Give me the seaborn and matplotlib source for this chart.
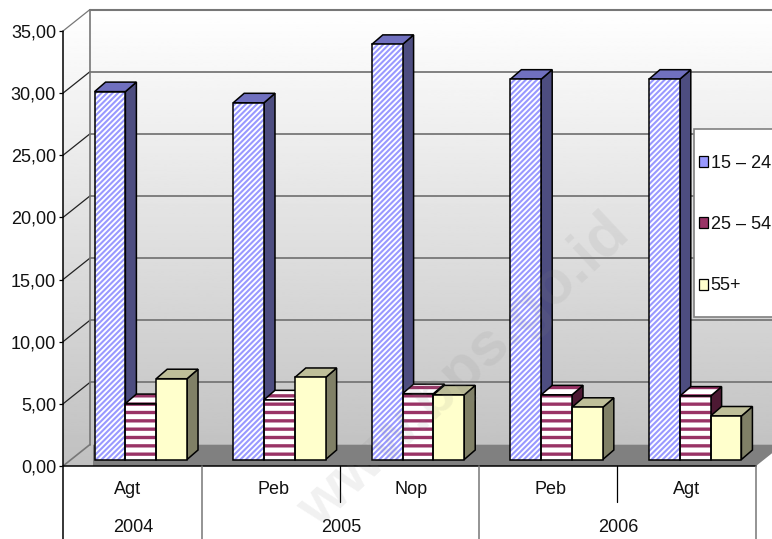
import matplotlib
matplotlib.use("Agg")
import matplotlib.pyplot as plt
from matplotlib.patches import Patch, Polygon, Rectangle
from matplotlib.ticker import FuncFormatter
from matplotlib.transforms import Affine2D
import numpy as np
import pandas as pd
import seaborn as sns

# Unemployment rate by age group
periods = ["Agt 2004", "Peb 2005", "Nop 2005", "Peb 2006", "Agt 2006"]
months = ["Agt", "Peb", "Nop", "Peb", "Agt"]
years = ["2004", "2005", "2006"]
year_spans = [(0, 0), (1, 2), (3, 4)]
age_groups = ["15 – 24", "25 – 54", "55+"]
age_15_24 = [29.6, 28.7, 33.4, 30.6, 30.6]
age_25_54 = [4.5, 4.8, 5.3, 5.2, 5.1]
age_55_up = [6.5, 6.6, 5.2, 4.2, 3.5]
y_ticks = [0, 5, 10, 15, 20, 25, 30, 35]

W, H = 772, 539
FRONT_L, FRONT_R, FRONT_B, FRONT_T = 63, 756, 466, 31
BAR_SHIFT_X, BAR_SHIFT_Y = 8.5, 6.5
WALL_DX, WALL_DY = 27, 21.5
BAR_DX, BAR_DY = 11, 9.5
MONTH_NUDGE = [-5, 3, 2, 2, 0]

FILLS = ["#9999FF", "#993366", "#FFFFCC"]
SIDES = ["#4D4D80", "#4D1933", "#808066"]
TOPS = ["#7070BF", "#993366", "#BFBF99"]
HATCHES = ["//////", "--", None]
HATCH_WIDTHS = [1.5, 2.4, 1.0]
GRID = "#777777"

sns.set_theme(style="white")
plt.rcParams["font.family"] = ["Liberation Sans", "DejaVu Sans"]
plt.rcParams["font.size"] = 13
plt.rcParams["hatch.linewidth"] = 1.5

frame = pd.DataFrame({
    "period": periods * 3,
    "age": np.repeat(age_groups, len(periods)),
    "rate": age_15_24 + age_25_54 + age_55_up,
})

fig = plt.figure(figsize=(W / 100, H / 100), dpi=100, facecolor="white")


def box(left, right, bottom, top):
    return [left / W, 1 - bottom / H, (right - left) / W, (bottom - top) / H]


def set_stripe_width(patch, width):
    if hasattr(patch, "set_hatch_linewidth"):
        patch.set_hatch_linewidth(width)


# Front plane: value axis, category labels, walls and floor
ax = fig.add_axes(box(FRONT_L, FRONT_R, FRONT_B, FRONT_T), zorder=1)
ax.patch.set_visible(False)
ax.set_xlim(-0.5, 4.5)
ax.set_ylim(0, 35)
px_x = (FRONT_R - FRONT_L) / 5
px_y = (FRONT_B - FRONT_T) / 35
wdx, wdy = WALL_DX / px_x, WALL_DY / px_y
x0, x1 = -0.5, 4.5
y_max = 35
notch = 30 / px_x

wall = Polygon(
    [(x0, 0), (x0, y_max), (x0 + wdx, y_max + wdy), (x1 + wdx, y_max + wdy),
     (x1 + wdx, wdy), (x0 + notch, wdy), (x0 + notch, 0)],
    closed=True, transform=ax.transData, facecolor="none", edgecolor="none",
)
ax.add_patch(wall)
shade = ax.imshow(
    np.linspace(1.0, 0.753, 256).reshape(-1, 1), cmap="gray", vmin=0, vmax=1,
    extent=(x0, x1 + wdx, 0, y_max + wdy), origin="upper", aspect="auto", zorder=0,
)
shade.set_clip_path(wall)
shade.set_clip_box(fig.bbox)
ax.set_xlim(x0, x1)
ax.set_ylim(0, y_max)

ax.add_patch(Polygon(
    [(x0 + notch, 0), (x0 + notch, wdy), (x1 + wdx, wdy), (x1, 0)],
    closed=True, facecolor="#808080", edgecolor="none", zorder=0.5, clip_on=False,
))

for tick in y_ticks[1:]:
    ax.plot([x0 + wdx, x1 + wdx], [tick + wdy, tick + wdy], color=GRID,
            lw=1.5 if tick == y_max else 1.3, zorder=0.6, clip_on=False)
    ax.plot([x0, x0 + wdx], [tick, tick + wdy],
            color=GRID if tick == y_max else "#222222", lw=0.9, zorder=0.6, clip_on=False)
ax.plot([x0, x0 + wdx], [0, wdy], color=GRID, lw=1.2, zorder=0.6, clip_on=False)
ax.plot([x0 + wdx, x0 + wdx], [wdy, y_max + wdy], color=GRID, lw=1.2, zorder=0.6, clip_on=False)

sns.despine(ax=ax, left=True, bottom=True, top=True, right=True)
ax.set_yticks(y_ticks)
ax.yaxis.set_major_formatter(FuncFormatter(lambda v, _: f"{v:.2f}".replace(".", ",")))
ax.tick_params(axis="y", left=True, length=3, width=0.9, color="black", pad=2,
               labelsize=13, labelcolor="#111111")
ax.set_xticks(range(len(months)))
ax.set_xticklabels(months)
ax.tick_params(axis="x", bottom=False, pad=4.5, labelsize=13, labelcolor="#111111")
for label, nudge in zip(ax.get_xticklabels(), MONTH_NUDGE):
    label.set_transform(label.get_transform() + Affine2D().translate(nudge, 0))
ax.grid(False)

# Axis rules and the two-level category separators below the floor
to_y = lambda py: (FRONT_B - py) / px_y
bottom_y, short_y = to_y(H), to_y(502)
ax.plot([x0, x0], [bottom_y, y_max], color="black", lw=1.1, clip_on=False, zorder=2)
ax.plot([x0, x1], [0, 0], color="black", lw=1.1, clip_on=False, zorder=2)
for first, last in year_spans:
    ax.plot([last + 0.5, last + 0.5], [bottom_y, 0], color=GRID, lw=1.1, clip_on=False, zorder=2)
    for inner in range(first, last):
        ax.plot([inner + 0.5, inner + 0.5], [short_y, 0], color="black", lw=0.9,
                clip_on=False, zorder=2)
for label, (first, last) in zip(years, year_spans):
    ax.text((first + last) / 2 + 0.01, to_y(527.5), label, ha="center", va="center",
            fontsize=13, color="#111111", clip_on=False)

# Bar plane, set back from the front plane
bar_ax = fig.add_axes(
    box(FRONT_L + BAR_SHIFT_X, FRONT_R + BAR_SHIFT_X,
        FRONT_B - BAR_SHIFT_Y, FRONT_T - BAR_SHIFT_Y), zorder=2)
sns.barplot(data=frame, x="period", y="rate", hue="age", order=periods,
            hue_order=age_groups, palette=FILLS, saturation=1, width=0.667, gap=0,
            errorbar=None, legend=False, ax=bar_ax)
bar_ax.set_xlim(x0, x1)
bar_ax.set_ylim(0, y_max)
bar_ax.patch.set_visible(False)
bar_ax.axis("off")

bdx, bdy = BAR_DX / px_x, BAR_DY / px_y
OUTLINE = 1.1
for i, container in enumerate(bar_ax.containers):
    for bar in container:
        left, right = bar.get_x(), bar.get_x() + bar.get_width()
        height = bar.get_height()
        bar.set_zorder(3)
        bar.set_linewidth(0)
        if HATCHES[i]:
            bar.set_facecolor("white")
            bar.set_edgecolor(FILLS[i])
            bar.set_hatch(HATCHES[i])
            set_stripe_width(bar, HATCH_WIDTHS[i])
        bar_ax.add_patch(Rectangle((left, 0), right - left, height, fill=False,
                                   edgecolor="black", lw=OUTLINE, zorder=3.1, clip_on=False))
        bar_ax.add_patch(Polygon(
            [(right, 0), (right + bdx, bdy), (right + bdx, height + bdy), (right, height)],
            closed=True, facecolor=SIDES[i], edgecolor="black", lw=OUTLINE,
            zorder=2 + i / 10, clip_on=False))
        top_pts = [(left, height), (left + bdx, height + bdy),
                   (right + bdx, height + bdy), (right, height)]
        if i == 1:
            top = Polygon(top_pts, closed=True, facecolor="white", edgecolor=TOPS[i],
                          hatch="--", lw=0, zorder=2 + i / 10, clip_on=False)
            set_stripe_width(top, HATCH_WIDTHS[i])
            bar_ax.add_patch(top)
            bar_ax.add_patch(Polygon(top_pts, closed=True, fill=False, edgecolor="black",
                                     lw=OUTLINE, zorder=2 + i / 10 + 0.01, clip_on=False))
        else:
            bar_ax.add_patch(Polygon(top_pts, closed=True, facecolor=TOPS[i], edgecolor="black",
                                     lw=OUTLINE, zorder=2 + i / 10, clip_on=False))

# Legend panel, running past the right edge of the canvas
bar_ax.add_artist(Rectangle(
    (693.5 / W, 1 - 317 / H), 100 / W, (317 - 129) / H, transform=fig.transFigure,
    facecolor="white", edgecolor="#808080", lw=1.2, zorder=4, clip_on=False))
handles = [Patch(facecolor=c, edgecolor="black", lw=0.9) for c in FILLS]
legend = bar_ax.legend(
    handles, age_groups, frameon=False, fontsize=13, loc="upper left",
    bbox_to_anchor=(698.5 / W, 1 - 155 / H), bbox_transform=fig.transFigure,
    borderpad=0, borderaxespad=0, handlelength=0.55, handleheight=0.55,
    handletextpad=0.12, labelspacing=2.45, labelcolor="#111111",
)
legend.set_zorder(5)

# Publisher's mark across the plot
fig.text(465 / W, 1 - 372 / H, "www.bps.go.id", fontsize=44, fontweight="bold",
         color="#808080", alpha=0.11, rotation=43, ha="center", va="center",
         rotation_mode="anchor", zorder=10)

fig.savefig("out.png", dpi=100)
